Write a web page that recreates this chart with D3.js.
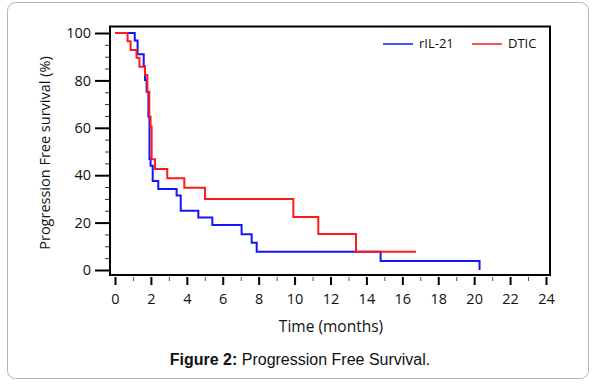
<!DOCTYPE html>
<html>
<head>
<meta charset="utf-8">
<script src="https://cdn.jsdelivr.net/npm/d3@7"></script>
<style>
  body { margin: 0; background: #fff; }
</style>
</head>
<body>
<div id="container"></div>
<script>
// Kaplan-Meier steps (time in months, survival in %)
let blueTime = [0, 1.1, 1.26, 1.6, 1.67, 1.76, 1.86, 1.92, 1.98, 2.1, 2.41, 3.43, 3.66, 4.64, 5.42, 7.05, 7.61, 7.89, 14.79, 20.3];
let blueSurv = [100, 96.8, 91, 86, 80.2, 75.2, 64.7, 46.8, 44, 37.6, 34.2, 31.4, 25, 22.1, 19, 15.1, 11.5, 7.7, 3.85, 0];

let redTime = [0, 0.7, 0.87, 1.2, 1.36, 1.67, 1.8, 1.91, 1.98, 2.04, 2.23, 2.91, 3.86, 5.01, 9.93, 11.32, 13.42, 16.76];
let redSurv = [100, 96.5, 92.8, 89.6, 85.8, 82.3, 75.2, 64.7, 60.5, 46.7, 42.6, 38.7, 34.7, 30, 22.4, 15.2, 7.7, 7.7];

let seriesNames = ["rIL-21", "DTIC"];
let seriesColors = ["#1414ff", "#ff1a1a"];

let xMajorTicks = [0, 2, 4, 6, 8, 10, 12, 14, 16, 18, 20, 22, 24];
let xMinorTicks = [1, 3, 5, 7, 9, 11, 13, 15, 17, 19, 21, 23];
let yMajorTicks = [0, 20, 40, 60, 80, 100];
let yMinorTicks = [5, 10, 15, 25, 30, 35, 45, 50, 55, 65, 70, 75, 85, 90, 95];

let w = 603;
let h = 385;
let font = "'Open Sans', sans-serif";

let viz = d3.select("#container")
  .append("svg")
    .attr("width", w)
    .attr("height", h);

// outer frame of the figure
viz.append("rect")
  .attr("x", 7.5).attr("y", 2.5)
  .attr("width", 581).attr("height", 376)
  .attr("rx", 8).attr("ry", 8)
  .attr("fill", "none")
  .attr("stroke", "#b4b4b4")
  .attr("stroke-width", 1);

let xScale = d3.scaleLinear().domain([0, 24]).range([115, 546]);
let yScale = d3.scaleLinear().domain([0, 100]).range([270, 33]);

// x axis (ticks sit just under the frame)
let xMajor = viz.append("g")
  .attr("transform", "translate(0, 277)")
  .call(d3.axisBottom(xScale).tickValues(xMajorTicks).tickSize(8).tickPadding(9));
xMajor.select(".domain").remove();
xMajor.selectAll(".tick line").attr("stroke", "#000").attr("stroke-width", 2);
xMajor.selectAll(".tick text")
  .attr("font-family", font).attr("font-size", 14.5).attr("fill", "#111");

let xMinor = viz.append("g")
  .attr("transform", "translate(0, 277)")
  .call(d3.axisBottom(xScale).tickValues(xMinorTicks).tickSize(4).tickFormat(""));
xMinor.select(".domain").remove();
xMinor.selectAll(".tick line").attr("stroke", "#555").attr("stroke-width", 1);

// y axis
let yMajor = viz.append("g")
  .attr("transform", "translate(110, 0)")
  .call(d3.axisLeft(yScale).tickValues(yMajorTicks).tickSize(15).tickPadding(4));
yMajor.select(".domain").remove();
yMajor.selectAll(".tick line").attr("stroke", "#000").attr("stroke-width", 2);
yMajor.selectAll(".tick text")
  .attr("font-family", font).attr("font-size", 14.5).attr("fill", "#111");

let yMinor = viz.append("g")
  .attr("transform", "translate(110, 0)")
  .call(d3.axisLeft(yScale).tickValues(yMinorTicks).tickSize(5).tickFormat(""));
yMinor.select(".domain").remove();
yMinor.selectAll(".tick line").attr("stroke", "#333").attr("stroke-width", 1);

// plot frame
viz.append("rect")
  .attr("x", 110).attr("y", 26.5)
  .attr("width", 440).attr("height", 248.5)
  .attr("fill", "none")
  .attr("stroke", "#000")
  .attr("stroke-width", 2);

// curves
let line = d3.line()
  .x(function(d){ return xScale(d[0]); })
  .y(function(d){ return yScale(d[1]); })
  .curve(d3.curveStepAfter);

let blueData = blueTime.map(function(t, i){ return [t, blueSurv[i]]; });
let redData = redTime.map(function(t, i){ return [t, redSurv[i]]; });

viz.append("path")
  .datum(blueData)
  .attr("d", line)
  .attr("fill", "none")
  .attr("stroke", seriesColors[0])
  .attr("stroke-width", 2);

viz.append("path")
  .datum(redData)
  .attr("d", line)
  .attr("fill", "none")
  .attr("stroke", seriesColors[1])
  .attr("stroke-width", 2);

// legend
let legendX = [383, 472];
for (let i = 0; i < 2; i++) {
  viz.append("line")
    .attr("x1", legendX[i]).attr("x2", legendX[i] + 30)
    .attr("y1", 44).attr("y2", 44)
    .attr("stroke", seriesColors[i])
    .attr("stroke-width", 1.5);
  viz.append("text")
    .text(seriesNames[i])
    .attr("x", legendX[i] + 36)
    .attr("y", 48)
    .attr("font-family", font)
    .attr("font-size", 13)
    .attr("fill", "#111");
}

// axis titles
viz.append("text")
  .text("Time (months)")
  .attr("x", 331)
  .attr("y", 332)
  .attr("text-anchor", "middle")
  .attr("font-family", font)
  .attr("font-size", 15.5)
  .attr("fill", "#111");

viz.append("text")
  .text("Progression Free survival (%)")
  .attr("transform", "translate(50, 153) rotate(-90)")
  .attr("text-anchor", "middle")
  .attr("font-family", font)
  .attr("font-size", 14.5)
  .attr("fill", "#111");

// caption
let caption = viz.append("text")
  .attr("x", 300)
  .attr("y", 365)
  .attr("text-anchor", "middle")
  .attr("font-family", "'Liberation Sans', Arial, sans-serif")
  .attr("font-size", 16)
  .attr("fill", "#111");
caption.append("tspan").attr("font-weight", "bold").text("Figure 2:");
caption.append("tspan").text(" Progression Free Survival.");
</script>
</body>
</html>
